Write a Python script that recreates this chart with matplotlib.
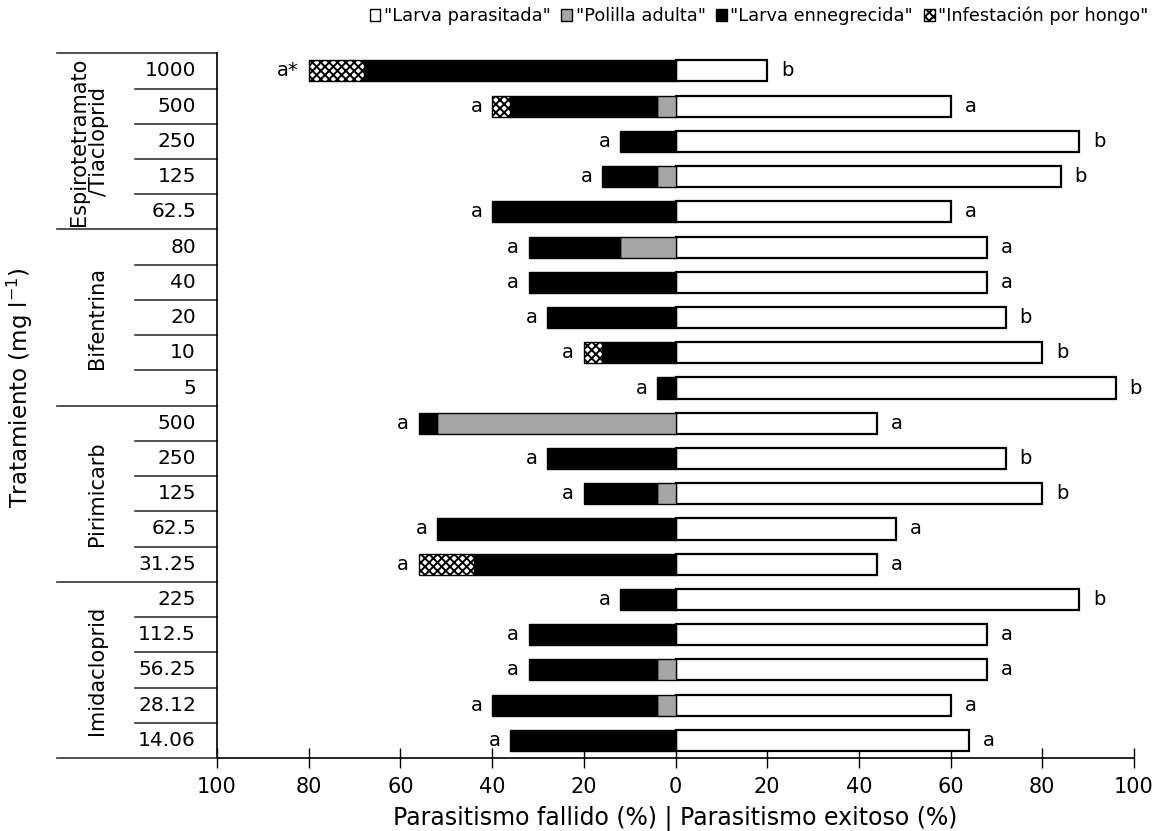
import matplotlib
matplotlib.use("Agg")
import matplotlib.pyplot as plt
from matplotlib.patches import Patch
import numpy as np

plt.rcParams['font.family'] = ['DejaVu Sans']
plt.rcParams['mathtext.fontset'] = 'dejavusans'
plt.rcParams['hatch.linewidth'] = 1.4

groups = ['Espirotetramato\n/Tiacloprid', 'Bifentrina', 'Pirimicarb', 'Imidacloprid']
concentrations = ['1000', '500', '250', '125', '62.5',
                  '80', '40', '20', '10', '5',
                  '500', '250', '125', '62.5', '31.25',
                  '225', '112.5', '56.25', '28.12', '14.06']
parasitada = [20, 60, 88, 84, 60, 68, 68, 72, 80, 96, 44, 72, 80, 48, 44, 88, 68, 68, 60, 64]
polilla = [0, 4, 0, 4, 0, 12, 0, 0, 0, 0, 52, 0, 4, 0, 0, 0, 0, 4, 4, 0]
ennegrecida = [68, 32, 12, 12, 40, 20, 32, 28, 16, 4, 4, 28, 16, 52, 44, 12, 32, 28, 36, 36]
hongo = [12, 4, 0, 0, 0, 0, 0, 0, 4, 0, 0, 0, 0, 0, 12, 0, 0, 0, 0, 0]
letters_left = ['a*', 'a', 'a', 'a', 'a', 'a', 'a', 'a', 'a', 'a',
                'a', 'a', 'a', 'a', 'a', 'a', 'a', 'a', 'a', 'a']
letters_right = ['b', 'a', 'b', 'b', 'a', 'a', 'a', 'b', 'b', 'b',
                 'a', 'b', 'b', 'a', 'a', 'b', 'a', 'a', 'a', 'a']
legend_labels = ['"Larva parasitada"', '"Polilla adulta"', '"Larva ennegrecida"', '"Infestación por hongo"']

fig = plt.figure(figsize=(11.61, 8.31), dpi=100)
ax = fig.add_axes([217/1161, 1-758/831, 917/1161, (758-53.3)/831])

n = len(concentrations)
y = np.arange(n)
h = 0.6
GRAY = '#a6a6a6'
HATCH = 'xxxx'

par = np.array(parasitada, float)
pol = np.array(polilla, float)
ene = np.array(ennegrecida, float)
hon = np.array(hongo, float)

def lw(vals, w):
    return [w if v > 0 else 0 for v in vals]

ax.barh(y, par, left=0, height=h, color='white', edgecolor='black', linewidth=1.6, zorder=3)
ax.barh(y, -pol, left=0, height=h, color=GRAY, edgecolor='black', linewidth=lw(pol, 1.0), zorder=3)
ax.barh(y, -ene, left=-pol, height=h, color='black', edgecolor='black', linewidth=lw(ene, 1.0), zorder=3)
ax.barh(y, -hon, left=-(pol+ene), height=h, color='white', edgecolor='black', hatch=HATCH,
        linewidth=lw(hon, 1.0), zorder=3)

fail_total = pol + ene + hon
for i in range(n):
    ax.annotate(letters_left[i], (-fail_total[i], y[i]), xytext=(-7, 0), textcoords='offset points',
                ha='right', va='center', fontsize=14)
    ax.annotate(letters_right[i], (par[i], y[i]), xytext=(10, 0), textcoords='offset points',
                ha='left', va='center', fontsize=14)

ax.set_xlim(-100, 100)
ax.set_ylim(n - 0.5, -0.5)
ticks = np.arange(-100, 101, 20)
ax.set_xticks(ticks)
ax.set_xticklabels([str(abs(int(t))) for t in ticks], fontsize=15)
ax.tick_params(axis='x', direction='inout', length=14, width=1, pad=7)
ax.set_yticks([])
for s in ['top', 'right']:
    ax.spines[s].set_visible(False)
for s in ['left', 'bottom']:
    ax.spines[s].set_linewidth(1.2)
ax.set_xlabel('Parasitismo fallido (%) | Parasitismo exitoso (%)', fontsize=17, labelpad=6)

# Table on the left
ytr = ax.get_yaxis_transform()
x_group = (57 - 217) / 917
x_inner = (135 - 217) / 917
x_conc = (196 - 217) / 917
x_glabel = (97 - 217) / 917
for i in range(n):
    ax.text(x_conc, y[i], concentrations[i], transform=ytr, ha='right', va='center', fontsize=14.5)
for b in np.arange(0, n + 1):
    yy = b - 0.5
    x0 = x_group if b % 5 == 0 else x_inner
    ax.plot([x0, 0], [yy, yy], transform=ytr, color='#333333', lw=1.2, clip_on=False)
for g, name in enumerate(groups):
    ax.text(x_glabel if g > 0 else (89 - 217) / 917, g * 5 + 2, name, transform=ytr, rotation=90,
            ha='center', va='center', fontsize=15, linespacing=0.95, multialignment='center')

fig.text(20/1161, 1 - 388/831, 'Tratamiento (mg l$^{-1}$)', rotation=90, ha='center', va='center',
         fontsize=16.5)

handles = [Patch(facecolor='white', edgecolor='black', linewidth=1.0),
           Patch(facecolor=GRAY, edgecolor='black', linewidth=1.0),
           Patch(facecolor='black', edgecolor='black', linewidth=1.0),
           Patch(facecolor='white', edgecolor='black', hatch=HATCH, linewidth=1.0)]
fig.legend(handles, legend_labels, loc='center', bbox_to_anchor=(759/1161, 1 - 16/831), ncol=4,
           frameon=False, fontsize=12.8, handlelength=0.6, handleheight=0.6, handletextpad=0.2,
           columnspacing=0.6, borderpad=0)

fig.savefig('out.png', dpi=100)
